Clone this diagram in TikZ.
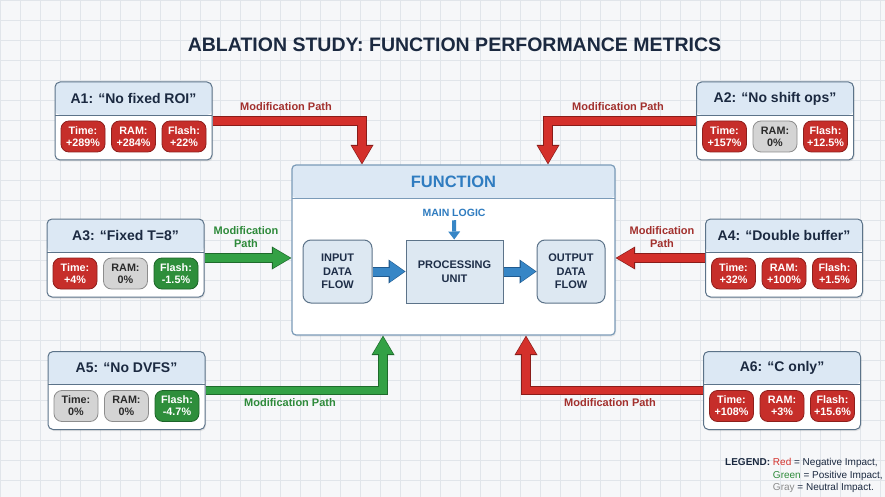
\documentclass[tikz,border=0pt]{standalone}
\usepackage{fontspec}
\setmainfont{Liberation Sans}
\usetikzlibrary{positioning,calc,arrows.meta,shadows}

\definecolor{bgpaper}{HTML}{F6F7F9}
\definecolor{gridline}{HTML}{E1E5EA}
\definecolor{titlenavy}{HTML}{1B2940}
\definecolor{boxline}{HTML}{5C7389}
\definecolor{hdrblue}{HTML}{DCE8F4}
\definecolor{fnline}{HTML}{7B9BB8}
\definecolor{fnblue}{HTML}{2F7CC0}
\definecolor{innerfill}{HTML}{DDE8F2}
\definecolor{innertext}{HTML}{1E2E48}
\definecolor{pillredfill}{HTML}{C62E2A}
\definecolor{pillredline}{HTML}{8E1F1C}
\definecolor{pillgrayfill}{HTML}{D4D4D4}
\definecolor{pillgrayline}{HTML}{8D8D8D}
\definecolor{pillgraytext}{HTML}{2A2A2A}
\definecolor{pillgreenfill}{HTML}{2E8E3B}
\definecolor{pillgreenline}{HTML}{1D6429}
\definecolor{arrred}{HTML}{D4302B}
\definecolor{arrredline}{HTML}{8A1C19}
\definecolor{arrgreen}{HTML}{33A145}
\definecolor{arrgreenline}{HTML}{1E6B2B}
\definecolor{labred}{HTML}{A2302D}
\definecolor{labgreen}{HTML}{2E8A3A}
\definecolor{arrblue}{HTML}{3786C6}
\definecolor{arrblueline}{HTML}{1F5A8F}
\definecolor{leggray}{HTML}{8A8A8A}

\begin{document}
\begin{tikzpicture}[x=1pt, y=-1pt,
    ablbox/.style={draw=boxline, line width=1pt, fill=white, rounded corners=5pt,
      minimum width=157pt, minimum height=78pt, inner sep=0pt,
      drop shadow={opacity=0.18, shadow xshift=1pt, shadow yshift=-1.5pt},
      path picture={
        \fill[hdrblue] (path picture bounding box.north west) rectangle ([yshift=-33pt]path picture bounding box.north east);
        \draw[boxline, line width=0.8pt] ([yshift=-33pt]path picture bounding box.north west) -- ([yshift=-33pt]path picture bounding box.north east);}},
    ablhead/.style={font=\bfseries\fontsize{14}{16}\selectfont, text=titlenavy},
    pillbase/.style={rounded corners=8pt, line width=0.8pt, minimum width=44pt,
      minimum height=31pt, inner sep=1pt, align=center,
      font=\bfseries\fontsize{10.8}{12}\selectfont},
    pillred/.style={pillbase, draw=pillredline, fill=pillredfill, text=white},
    pillgray/.style={pillbase, draw=pillgrayline, fill=pillgrayfill, text=pillgraytext},
    pillgreen/.style={pillbase, draw=pillgreenline, fill=pillgreenfill, text=white},
    pathlabel/.style={font=\bfseries\fontsize{11}{13}\selectfont, align=center},
    redpath/.style={draw=arrred, line width=7.5pt, -{Triangle[length=17pt, width=20pt, line width=0pt]},
      shorten >=1.3pt,
      preaction={draw=arrredline, line width=9.5pt, shorten >=0pt,
        -{Triangle[length=19.5pt, width=23pt, line width=0pt]}}},
    greenpath/.style={draw=arrgreen, line width=7.5pt, -{Triangle[length=17pt, width=20pt, line width=0pt]},
      shorten >=1.3pt,
      preaction={draw=arrgreenline, line width=9.5pt, shorten >=0pt,
        -{Triangle[length=19.5pt, width=23pt, line width=0pt]}}},
    bluepath/.style={draw=arrblue, line width=8pt, -{Triangle[length=14.5pt, width=21pt, line width=0pt]},
      shorten >=1.2pt,
      preaction={draw=arrblueline, line width=10pt, shorten >=0pt,
        -{Triangle[length=17pt, width=24pt, line width=0pt]}}},
    innerbox/.style={draw=boxline, line width=1pt, fill=innerfill, minimum height=63pt,
      align=center, text=innertext, font=\bfseries\fontsize{11}{13.5}\selectfont}
  ]
  \useasboundingbox (0,0) rectangle (885,497);
  % paper and grid
  \fill[bgpaper] (0,0) rectangle (885,497);
  \draw[gridline, line width=0.5pt, step=20pt] (0,0) grid (885,497);

  % title
  \node[font=\bfseries\fontsize{19.5}{22}\selectfont, text=titlenavy] (title) at (454.5,45) {ABLATION STUDY: FUNCTION PERFORMANCE METRICS};

  % the function block
  \node[draw=fnline, line width=1.2pt, fill=white, rounded corners=4pt,
    minimum width=323pt, minimum height=170pt, inner sep=0pt,
    drop shadow={opacity=0.15, shadow xshift=1pt, shadow yshift=-1.5pt},
    path picture={
      \fill[hdrblue] (path picture bounding box.north west) rectangle ([yshift=-33pt]path picture bounding box.north east);
      \draw[fnline, line width=0.8pt] ([yshift=-33pt]path picture bounding box.north west) -- ([yshift=-33pt]path picture bounding box.north east);}]
    (fn) at (453.5,250) {};
  \node[font=\bfseries\fontsize{16.5}{18}\selectfont, text=fnblue] (fntitle) at ($(fn.north)+(0,17)$) {FUNCTION};
  \node[innerbox, rounded corners=8pt, minimum width=69pt] (inflow) at (337.5,271.5) {INPUT\\DATA\\FLOW};
  \node[innerbox, minimum width=97pt] (proc) at (454.5,271.5) {PROCESSING\\UNIT};
  \node[innerbox, rounded corners=8pt, minimum width=68pt] (outflow) at (571,271.5) {OUTPUT\\DATA\\FLOW};
  \node[font=\bfseries\fontsize{10.5}{12}\selectfont, text=fnblue] (logic) at (454,213) {MAIN LOGIC};

  \draw[arrblue, line width=4pt, -{Triangle[length=8pt, width=12pt, line width=0pt]}] (logic) -- (proc);
  \draw[bluepath] (inflow) -- (proc);
  \draw[bluepath] (proc) -- (outflow);

  % ablation boxes
  \node[ablbox] (a1) at (133.5,121) {};
  \node[ablhead] (a1t) at ($(a1.north)+(0,17)$) {A1: “No fixed ROI”};
  \node[pillred] (a1p1) at ($(a1.north)+(-50.5,55)$) {Time:\\+289\%};
  \node[pillred] (a1p2) at ($(a1.north)+(0,55)$) {RAM:\\+284\%};
  \node[pillred] (a1p3) at ($(a1.north)+(50.5,55)$) {Flash:\\+22\%};

  \node[ablbox] (a2) at (775,121) {};
  \node[ablhead] (a2t) at ($(a2.north)+(0,17)$) {A2: “No shift ops”};
  \node[pillred] (a2p1) at ($(a2.north)+(-50.5,55)$) {Time:\\+157\%};
  \node[pillgray] (a2p2) at ($(a2.north)+(0,55)$) {RAM:\\0\%};
  \node[pillred] (a2p3) at ($(a2.north)+(50.5,55)$) {Flash:\\+12.5\%};

  \node[ablbox] (a3) at (125.5,258) {};
  \node[ablhead] (a3t) at ($(a3.north)+(0,17)$) {A3: “Fixed T=8”};
  \node[pillred] (a3p1) at ($(a3.north)+(-50.5,55)$) {Time:\\+4\%};
  \node[pillgray] (a3p2) at ($(a3.north)+(0,55)$) {RAM:\\0\%};
  \node[pillgreen] (a3p3) at ($(a3.north)+(50.5,55)$) {Flash:\\-1.5\%};

  \node[ablbox] (a4) at (784,258) {};
  \node[ablhead] (a4t) at ($(a4.north)+(0,17)$) {A4: “Double buffer”};
  \node[pillred] (a4p1) at ($(a4.north)+(-50.5,55)$) {Time:\\+32\%};
  \node[pillred] (a4p2) at ($(a4.north)+(0,55)$) {RAM:\\+100\%};
  \node[pillred] (a4p3) at ($(a4.north)+(50.5,55)$) {Flash:\\+1.5\%};

  \node[ablbox] (a5) at (126.5,390.5) {};
  \node[ablhead] (a5t) at ($(a5.north)+(0,17)$) {A5: “No DVFS”};
  \node[pillgray] (a5p1) at ($(a5.north)+(-50.5,55)$) {Time:\\0\%};
  \node[pillgray] (a5p2) at ($(a5.north)+(0,55)$) {RAM:\\0\%};
  \node[pillgreen] (a5p3) at ($(a5.north)+(50.5,55)$) {Flash:\\-4.7\%};

  \node[ablbox] (a6) at (782,390.5) {};
  \node[ablhead] (a6t) at ($(a6.north)+(0,17)$) {A6: “C only”};
  \node[pillred] (a6p1) at ($(a6.north)+(-50.5,55)$) {Time:\\+108\%};
  \node[pillred] (a6p2) at ($(a6.north)+(0,55)$) {RAM:\\+3\%};
  \node[pillred] (a6p3) at ($(a6.north)+(50.5,55)$) {Flash:\\+15.6\%};

  % modification paths
  \draw[redpath] (a1.east) -| ([xshift=-91.5pt]fn.north);
  \draw[redpath] (a2.west) -| ([xshift=94.5pt]fn.north);
  \draw[greenpath] (a3.east) -- (a3.east -| fn.west);
  \draw[redpath] (a4.west) -- (a4.west -| fn.east);
  \draw[greenpath] (a5.east) -| ([xshift=-70.5pt]fn.south);
  \draw[redpath] (a6.west) -| ([xshift=72.5pt]fn.south);

  \node[pathlabel, text=labred] (m1) at (286,107) {Modification Path};
  \node[pathlabel, text=labred] (m2) at (618,107) {Modification Path};
  \node[pathlabel, text=labgreen] (m3) at (246,237) {Modification\\Path};
  \node[pathlabel, text=labred] (m4) at (662,237) {Modification\\Path};
  \node[pathlabel, text=labgreen] (m5) at (290,403) {Modification Path};
  \node[pathlabel, text=labred] (m6) at (610,403) {Modification Path};

  % legend
  \node[anchor=north west, inner sep=0pt, text=titlenavy, font=\fontsize{10}{12.5}\selectfont] (legend) at (725,457)
    {\begin{tabular}{@{}r@{ }l@{}}
      \textbf{LEGEND:} & \textcolor{arrred}{Red} = Negative Impact,\\
      & \textcolor{labgreen}{Green} = Positive Impact,\\
      & \textcolor{leggray}{Gray} = Neutral Impact.
    \end{tabular}};
\end{tikzpicture}
\end{document}
